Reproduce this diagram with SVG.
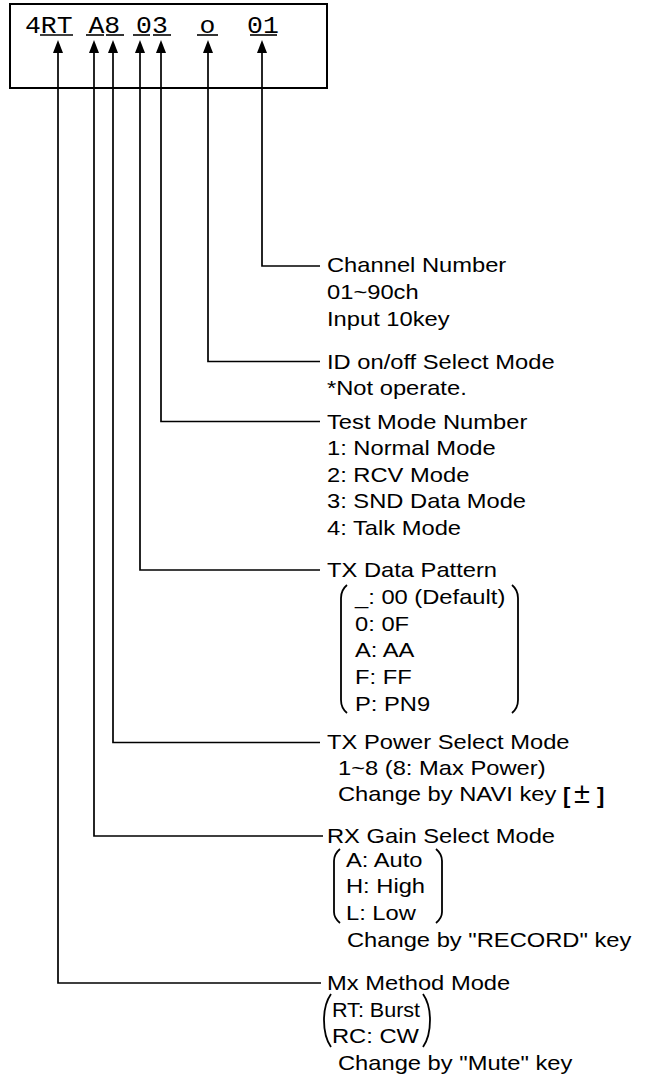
<svg xmlns="http://www.w3.org/2000/svg" width="648" height="1075" viewBox="0 0 648 1075">
<defs>
<style>
.t{font-family:"Liberation Sans",Arial,sans-serif;font-size:21px;fill:#000}
.m{font-family:"Liberation Mono","Courier New",monospace;font-size:23px;fill:#000;white-space:pre}
.b{font-family:"Liberation Sans",Arial,sans-serif;font-size:22px;font-weight:bold;fill:#000}
.c{fill:none;stroke:#000;stroke-width:1.7}
.p{fill:none;stroke:#000;stroke-width:1.8}
</style>
<marker id="ah" markerUnits="userSpaceOnUse" markerWidth="16" markerHeight="12" viewBox="0 -6 16 12" refX="7" refY="0" orient="auto-start-reverse">
<path d="M0,-5 L13,0 L0,5 z" fill="#000"/>
</marker>
</defs>
<rect width="648" height="1075" fill="#fff"/>
<g id="code-box">
<rect x="10" y="4" width="317" height="84" fill="none" stroke="#000" stroke-width="2"/>
<text class="m" xml:space="preserve" transform="translate(25 33) scale(1.15 1)">4RT A8 03  o  01</text>
<g stroke="#000" stroke-width="1.6">
<line x1="40" y1="35" x2="73" y2="35"/>
<line x1="86" y1="35" x2="104" y2="35"/>
<line x1="106" y1="35" x2="124" y2="35"/>
<line x1="133" y1="35" x2="150" y2="35"/>
<line x1="153" y1="35" x2="171" y2="35"/>
<line x1="197" y1="35" x2="218" y2="35"/>
<line x1="250" y1="35" x2="277" y2="35"/>
</g>
</g>
<g id="connectors">
<path class="c" marker-start="url(#ah)" d="M262,46 V266 H320"/>
<path class="c" marker-start="url(#ah)" d="M208,46 V361.5 H320"/>
<path class="c" marker-start="url(#ah)" d="M161,46 V421.5 H320"/>
<path class="c" marker-start="url(#ah)" d="M140,46 V570 H320"/>
<path class="c" marker-start="url(#ah)" d="M113,46 V742.5 H320"/>
<path class="c" marker-start="url(#ah)" d="M94,46 V836 H323"/>
<path class="c" marker-start="url(#ah)" d="M58,46 V983 H321"/>
</g>
<g id="channel-number">
<text class="t" transform="translate(327 272) scale(1.13 1)"><tspan x="0" y="0">Channel Number</tspan><tspan x="0" y="27">01~90ch</tspan><tspan x="0" y="54">Input 10key</tspan></text>
</g>
<g id="id-select">
<text class="t" transform="translate(327 368.5) scale(1.13 1)"><tspan x="0" y="0">ID on/off Select Mode</tspan><tspan x="0" y="27">*Not operate.</tspan></text>
</g>
<g id="test-mode">
<text class="t" transform="translate(327 428.5) scale(1.13 1)"><tspan x="0" y="0">Test Mode Number</tspan><tspan x="0" y="27">1: Normal Mode</tspan><tspan x="0" y="53.5">2: RCV Mode</tspan><tspan x="0" y="80">3: SND Data Mode</tspan><tspan x="0" y="107">4: Talk Mode</tspan></text>
</g>
<g id="tx-data">
<text class="t" transform="translate(327 577) scale(1.13 1)"><tspan x="0" y="0">TX Data Pattern</tspan><tspan x="24.8" y="27">_: 00 (Default)</tspan><tspan x="24.8" y="54">0: 0F</tspan><tspan x="24.8" y="80.5">A: AA</tspan><tspan x="24.8" y="107.5">F: FF</tspan><tspan x="24.8" y="134">P: PN9</tspan></text>
<path class="p" d="M347,585 Q341,590 341,598 L341,700 Q341,708 347,713"/>
<path class="p" d="M512,585 Q518,590 518,598 L518,700 Q518,708 512,713"/>
</g>
<g id="tx-power">
<text class="t" transform="translate(327 748.5) scale(1.13 1)"><tspan x="0" y="0">TX Power Select Mode</tspan><tspan x="9.7" y="26.5">1~8 (8: Max Power)</tspan><tspan x="9.7" y="53">Change by NAVI key</tspan></text>
<text class="b" x="563" y="803">[</text>
<text class="t" style="font-size:29px" x="574" y="803">±</text>
<text class="b" x="597" y="803">]</text>
</g>
<g id="rx-gain">
<text class="t" transform="translate(327 842.5) scale(1.13 1)"><tspan x="0" y="0">RX Gain Select Mode</tspan><tspan x="16.8" y="24.5">A: Auto</tspan><tspan x="16.8" y="51">H: High</tspan><tspan x="16.8" y="77.5">L: Low</tspan><tspan x="17.7" y="105">Change by "RECORD" key</tspan></text>
<path class="p" d="M340,849 Q334,854 334,861 L334,912 Q334,918 340,923"/>
<path class="p" d="M436,849 Q442,854 442,861 L442,912 Q442,918 436,923"/>
</g>
<g id="mx-method">
<text class="t" transform="translate(327 990) scale(1.13 1)"><tspan x="0" y="0">Mx Method Mode</tspan><tspan x="4.4" y="27" textLength="78" lengthAdjust="spacingAndGlyphs">RT: Burst</tspan><tspan x="4.4" y="53">RC: CW</tspan><tspan x="9.7" y="80.5">Change by "Mute" key</tspan></text>
<path class="p" d="M331,994 Q324,1004 324,1020 Q324,1037 331,1047"/>
<path class="p" d="M423,994 Q430,1004 430,1020 Q430,1037 423,1047"/>
</g>
</svg>
